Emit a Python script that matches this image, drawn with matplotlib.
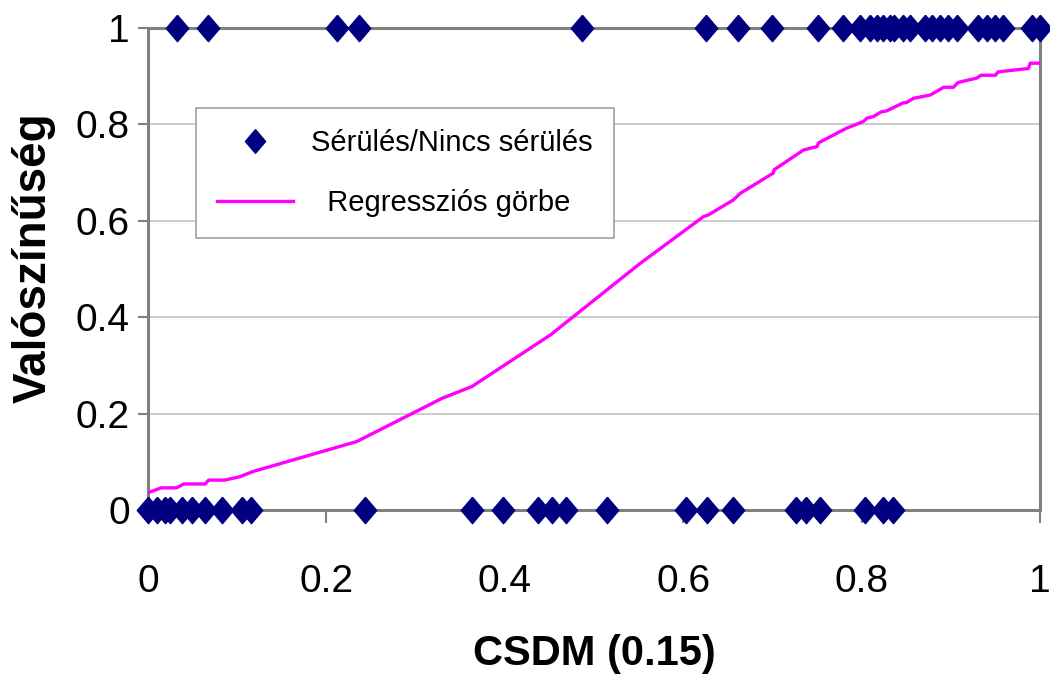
import matplotlib.pyplot as plt
from matplotlib import font_manager

# Data
# CSDM values of the observations with damage (y = 1)
damage_x = [0.032, 0.067, 0.212, 0.236, 0.487, 0.626, 0.661, 0.700, 0.751, 0.779,
            0.798, 0.809, 0.817, 0.824, 0.832, 0.836, 0.846, 0.854, 0.871, 0.879,
            0.888, 0.897, 0.907, 0.930, 0.941, 0.950, 0.959, 0.991, 1.0]
# CSDM values of the observations without damage (y = 0)
no_damage_x = [0.0, 0.010, 0.019, 0.025, 0.038, 0.049, 0.064, 0.083, 0.105, 0.116,
               0.243, 0.363, 0.398, 0.437, 0.453, 0.469, 0.515, 0.603, 0.627, 0.656,
               0.726, 0.738, 0.753, 0.804, 0.824, 0.835]

# regression curve
curve_x = [0.0, 0.015, 0.032, 0.040, 0.064, 0.068, 0.086, 0.103, 0.118, 0.234,
           0.330, 0.363, 0.451, 0.552, 0.623, 0.628, 0.656, 0.664, 0.701, 0.702,
           0.735, 0.750, 0.752, 0.783, 0.802, 0.806, 0.813, 0.822, 0.828, 0.847,
           0.850, 0.858, 0.877, 0.892, 0.903, 0.908, 0.929, 0.934, 0.950, 0.953,
           0.987, 0.989, 1.0]
curve_y = [0.036, 0.046, 0.046, 0.054, 0.054, 0.062, 0.062, 0.069, 0.080, 0.142,
           0.232, 0.256, 0.363, 0.512, 0.609, 0.612, 0.643, 0.657, 0.699, 0.706,
           0.747, 0.754, 0.762, 0.792, 0.806, 0.813, 0.816, 0.826, 0.828, 0.845,
           0.845, 0.854, 0.861, 0.877, 0.877, 0.887, 0.896, 0.902, 0.902, 0.909,
           0.916, 0.927, 0.927]

x_ticks = [0, 0.2, 0.4, 0.6, 0.8, 1]
x_ticklabels = ['0', '0.2', '0.4', '0.6', '0.8', '1']
y_ticks = [0, 0.2, 0.4, 0.6, 0.8, 1]
y_ticklabels = ['0', '0.2', '0.4', '0.6', '0.8', '1']

# fonts
names = set(f.name for f in font_manager.fontManager.ttflist)
base_font = 'Liberation Sans' if 'Liberation Sans' in names else 'DejaVu Sans'
plt.rcParams['font.family'] = [base_font, 'DejaVu Sans']

navy = '#000080'
frame_gray = '#808080'
diamond = [(0, 1), (0.85, 0), (0, -1), (-0.85, 0), (0, 1)]

fig = plt.figure(figsize=(10.5, 6.75), dpi=100)
ax = fig.add_axes([148 / 1050, 1 - 510 / 675, 892 / 1050, 482 / 675])

ax.plot(damage_x + no_damage_x, [1] * len(damage_x) + [0] * len(no_damage_x),
        linestyle='', marker=diamond, markersize=19, color=navy,
        markeredgecolor=navy, clip_on=False, zorder=4,
        label='Sérülés/Nincs sérülés')
ax.plot(curve_x, curve_y, color='#FF00FF', linewidth=2.4, zorder=3,
        label='  Regressziós görbe')

ax.set_xlim(0, 1)
ax.set_ylim(0, 1)
ax.set_xticks(x_ticks)
ax.set_xticklabels(x_ticklabels, fontsize=28)
ax.set_yticks(y_ticks)
ax.set_yticklabels(y_ticklabels, fontsize=28)
ax.tick_params(axis='x', direction='out', length=9, width=1.5, color=frame_gray, pad=30)
ax.tick_params(axis='y', direction='out', length=7, width=1.5, color=frame_gray, pad=6)

ax.yaxis.grid(True, color='#C8C8C8', linewidth=1.3)
ax.set_axisbelow(True)
for side in ['left', 'right', 'top', 'bottom']:
    ax.spines[side].set_color(frame_gray)
    ax.spines[side].set_linewidth(2.2)

ax.set_xlabel('CSDM (0.15)', fontsize=30, fontweight='bold', labelpad=24)
ax.set_ylabel('Valószínűség', fontsize=33, fontweight='bold')
ax.yaxis.set_label_coords(-0.104, 0.523)

leg = ax.legend(loc='upper left', bbox_to_anchor=(196 / 1050, 1 - 108 / 675),
                bbox_transform=fig.transFigure, borderaxespad=0, fontsize=21,
                fancybox=False, framealpha=1, edgecolor='#A0A0A0',
                handlelength=2.6, handletextpad=0.62, labelspacing=1.1,
                borderpad=0.72, markerscale=0.9)
leg.get_frame().set_linewidth(1.2)

plt.savefig('out.png', dpi=100)
